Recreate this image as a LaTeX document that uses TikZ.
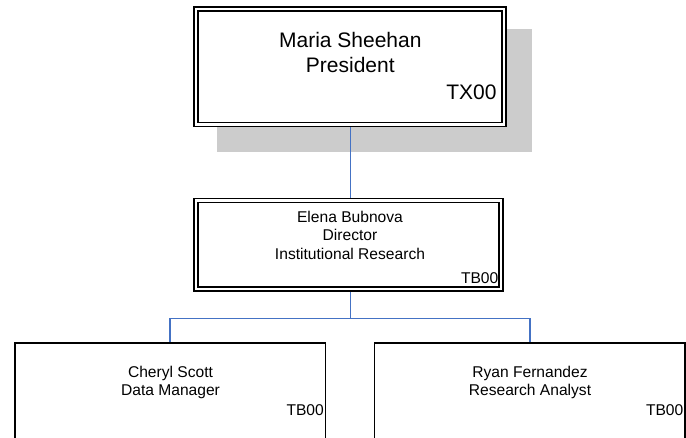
\documentclass[tikz,border=0pt]{standalone}
\usepackage{fontspec}
\setmainfont{Liberation Sans}
\definecolor{linkblue}{RGB}{68,114,196}
\tikzset{
    dbox/.style={draw, double, line width=1.7pt, double distance=2.3pt, outer sep=2.85pt, inner sep=0pt},
    sbox/.style={draw, line width=1.5pt, inner sep=0pt},
    link/.style={draw=linkblue, line width=1.6pt},
    bigtxt/.style={font=\fontsize{21}{25}\selectfont, align=center, inner sep=0pt},
    smalltxt/.style={font=\fontsize{15.6}{18.8}\selectfont, align=center, inner sep=0pt},
    code/.style={inner sep=0pt, anchor=base east},
}
\begin{document}
\begin{tikzpicture}[x=1pt, y=-1pt]
    \useasboundingbox (0,0) rectangle (686,437);
    \clip (0,0) rectangle (686,437);

    % Shadow
    \fill[black!20] (217.3,29.3) rectangle (531.7,151.7);

    % Boxes
    \node[dbox, fill=white, minimum width=308pt, minimum height=115.5pt] (pres) at (350.3,66.8) {};
    \node[dbox, minimum width=305pt, minimum height=88.7pt] (dir) at (348.7,244.7) {};
    \node[sbox, minimum width=310.5pt, minimum height=117pt] (dm) at (170.25,401.5) {};
    \node[sbox, minimum width=310.5pt, minimum height=117pt] (ra) at (529.75,401.5) {};

    % Texts
    \node[bigtxt, anchor=north] (presname) at (350.3,32.5) {Maria Sheehan\\President};
    \node[code, font=\fontsize{21}{25}\selectfont] (prescode) at (496.7,99.2) {TX00};

    \node[smalltxt, anchor=north] (dirname) at (350,210.5) {Elena Bubnova\\Director\\Institutional Research};
    \node[code, font=\fontsize{15.6}{18.8}\selectfont] (dircode) at (498.5,283.9) {TB00};

    \node[smalltxt, anchor=north] (dmname) at (170.5,365.5) {Cheryl Scott\\Data Manager};
    \node[code, font=\fontsize{15.6}{18.8}\selectfont] (dmcode) at (324,415.6) {TB00};

    \node[smalltxt, anchor=north] (raname) at (530,365.5) {Ryan Fernandez\\Research Analyst};
    \node[code, font=\fontsize{15.6}{18.8}\selectfont] (racode) at (683.5,415.6) {TB00};

    % Edges
    \coordinate (bus) at (350.3,318.5);
    \draw[link] (pres.south) -- (pres.south |- dir.north);
    \draw[link] (pres.south |- dir.south) -- (bus);
    \draw[link] (bus) -| (dm.north);
    \draw[link] (bus) -| (ra.north);
\end{tikzpicture}
\end{document}
